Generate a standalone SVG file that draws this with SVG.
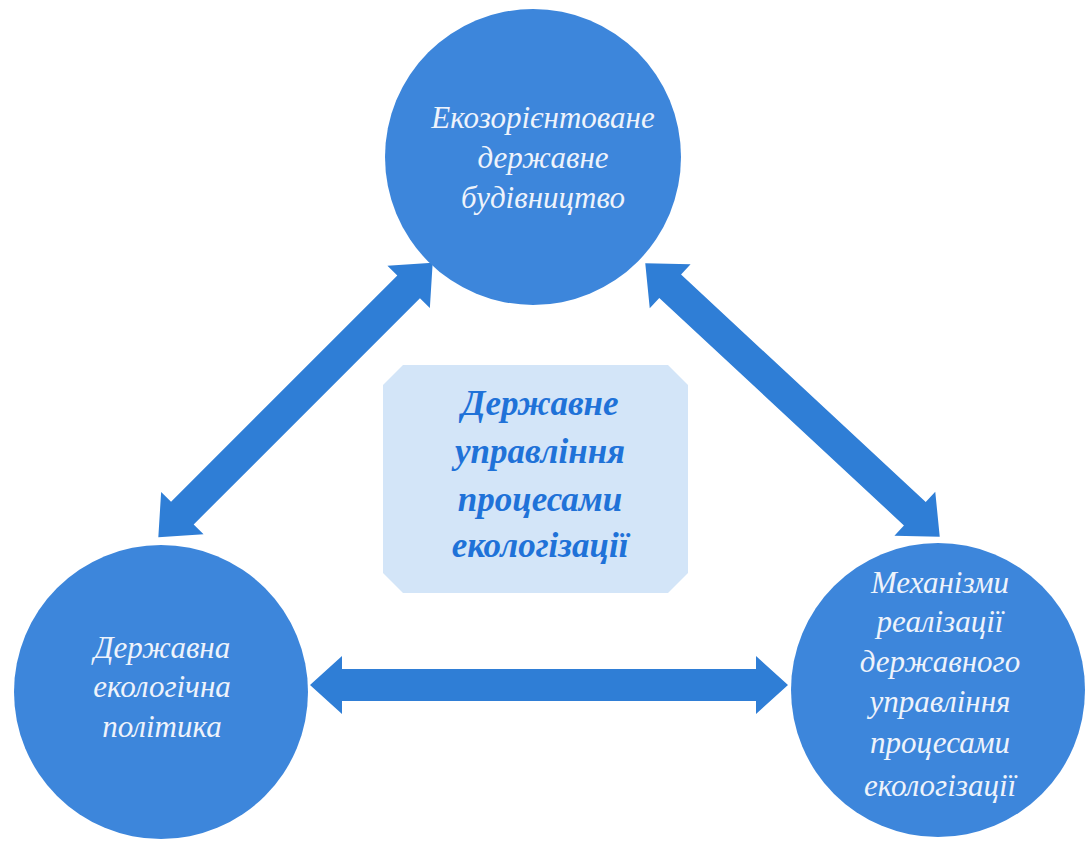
<svg xmlns="http://www.w3.org/2000/svg" width="1088" height="841" viewBox="0 0 1088 841">
<style>
.node{fill:#3d86db;}
.ntext{font-family:"Liberation Serif","DejaVu Serif",serif;font-style:italic;font-size:31px;fill:#eef3fb;text-anchor:middle;}
.ctext{font-family:"Liberation Serif","DejaVu Serif",serif;font-style:italic;font-weight:bold;font-size:35px;fill:#1f72d8;text-anchor:middle;}
.arrow{fill:#2f7ed6;}
</style>
<rect width="1088" height="841" fill="#ffffff"/>
<g id="connectors">
<polygon class="arrow" transform="translate(295.5,400) rotate(-45)" points="-194,0 -160,-30 -160,-16 160,-16 160,-30 194,0 160,30 160,16 -160,16 -160,30"/>
<polygon class="arrow" transform="translate(792.5,400) rotate(42.9)" points="-201,0 -167,-30 -167,-16 167,-16 167,-30 201,0 167,30 167,16 -167,16 -167,30"/>
<polygon class="arrow" transform="translate(549,685)" points="-239,0 -207,-29 -207,-16 207,-16 207,-29 239,0 207,29 207,16 -207,16 -207,29"/>
</g>
<g id="node-top">
<circle class="node" cx="533" cy="157" r="148"/>
<text class="ntext" x="543" y="128">Екозорієнтоване</text>
<text class="ntext" x="543" y="168">державне</text>
<text class="ntext" x="543" y="208">будівництво</text>
</g>
<g id="node-left">
<circle class="node" cx="161" cy="692" r="147"/>
<text class="ntext" x="162" y="658">Державна</text>
<text class="ntext" x="162" y="697">екологічна</text>
<text class="ntext" x="162" y="737">політика</text>
</g>
<g id="node-right">
<circle class="node" cx="938" cy="690" r="147"/>
<text class="ntext" x="940" y="593">Механізми</text>
<text class="ntext" x="940" y="632">реалізації</text>
<text class="ntext" x="940" y="672">державного</text>
<text class="ntext" x="940" y="712">управління</text>
<text class="ntext" x="940" y="753">процесами</text>
<text class="ntext" x="940" y="796">екологізації</text>
</g>
<g id="node-center">
<polygon fill="#d3e5f8" points="403,365 668,365 688,385 688,573 668,593 403,593 383,573 383,385"/>
<text class="ctext" x="540" y="415">Державне</text>
<text class="ctext" x="540" y="463">управління</text>
<text class="ctext" x="540" y="511">процесами</text>
<text class="ctext" x="540" y="557">екологізації</text>
</g>
</svg>
